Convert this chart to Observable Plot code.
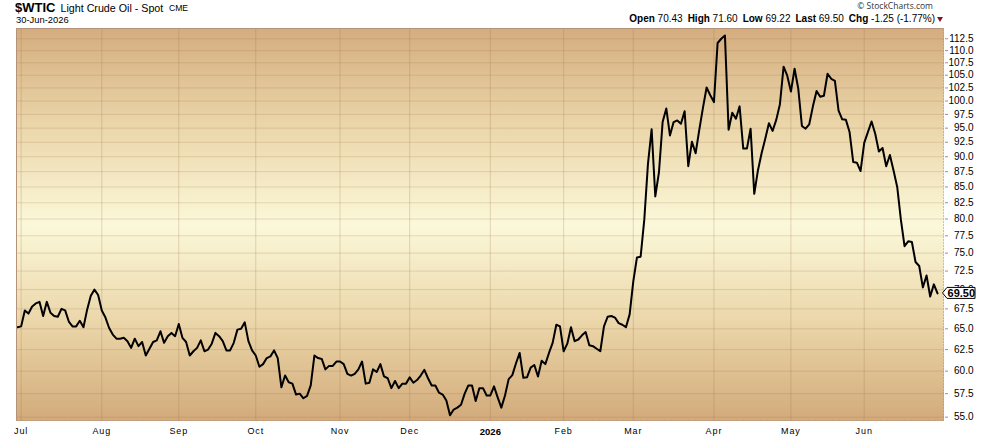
<!DOCTYPE html>
<html>
<head>
<meta charset="utf-8">
<script src="https://cdn.jsdelivr.net/npm/d3@7"></script>
<script src="https://cdn.jsdelivr.net/npm/@observablehq/plot@0.6"></script>
<style>
  body { margin: 0; background: #fff; font-family: "Liberation Sans", Arial, sans-serif; }
  #wrap { position: relative; width: 990px; height: 438px; overflow: hidden; background: #fff; }
  #hdr { position: relative; width: 990px; height: 27px; }
  #hdr span { position: absolute; white-space: nowrap; line-height: 1; color: #000; }
  #sym { left: 15px; top: 0.7px; font-size: 13px; font-weight: bold; }
  #name { left: 60.5px; top: 2.6px; font-size: 10.7px; }
  #exch { left: 169px; top: 4.4px; font-size: 8.6px; }
  #date { left: 16px; top: 14.6px; font-size: 9.4px; }
  #copy { right: 57px; top: 2px; font-size: 8.5px; color: #333 !important; font-family: "Open Sans", sans-serif; }
  #quote { right: 55px; top: 14px; font-size: 10px; }
  #quote b { font-weight: bold; }
  #quote i { font-style: normal; margin-right: 5px; }
  #tri { position: absolute; left: 937px; top: 17px; width: 0; height: 0;
         border-left: 3.5px solid transparent; border-right: 3.5px solid transparent; border-top: 5px solid #8b1030; }
  g[aria-description="xlab"] text { letter-spacing: 0.9px; }
</style>
</head>
<body>
<div id="wrap">
  <div id="hdr"></div>
  <div id="chart"></div>
</div>
<script>
// ---- data ----
const symbol = "$WTIC";
const seriesName = "Light Crude Oil - Spot";
const exchange = "CME";
const asOf = "30-Jun-2026";
const firstDay = "2025-06-30";
const lastDay = "2026-06-30";
const holidays = ["2025-07-04","2025-09-01","2025-11-27","2025-12-25","2026-01-01",
                  "2026-01-19","2026-02-16","2026-04-03","2026-05-25","2026-06-19"];
const quoteLabels = ["Open","High","Low","Last","Chg"];
const quoteValues = ["70.43","71.60","69.22","69.50","-1.25 (-1.77%)"];
const lastClose = 69.50;
const monthLabels = ["Jul","Aug","Sep","Oct","Nov","Dec","2026","Feb","Mar","Apr","May","Jun"];
const yTicks = [55,57.5,60,62.5,65,67.5,70,72.5,75,77.5,80,82.5,85,87.5,90,92.5,95,97.5,100,102.5,105,107.5,110,112.5];
const closes = [
  65.2,65.3,67.3,66.9,67.8,68.2,68.4,66.6,68.4,67.0,
  66.6,66.5,67.5,67.3,65.9,65.3,65.3,66.0,65.2,67.4,
  69.2,70.0,69.3,67.3,66.4,65.1,64.3,63.8,63.8,63.9,
  63.5,62.7,63.8,62.9,63.4,61.8,62.6,63.4,63.6,64.7,
  63.3,64.1,64.5,64.1,65.6,63.9,63.4,61.8,62.3,62.7,
  63.6,62.3,62.5,63.2,64.5,64.1,63.5,62.4,62.4,63.3,
  64.9,65.0,65.8,63.5,62.4,61.8,60.5,60.8,61.5,61.7,
  62.4,61.5,58.2,59.5,58.75,58.6,57.4,57.5,57.0,57.25,
  58.4,61.8,61.5,61.4,60.2,60.6,
  60.6,61.1,61.1,60.8,59.7,59.5,59.7,60.2,61.1,58.6,
  58.7,60.2,59.9,60.8,59.4,59.2,58.1,58.9,58.1,58.6,
  58.6,59.3,58.7,59.0,59.5,60.15,59.2,58.4,58.4,57.6,
  57.4,56.75,55.2,55.8,56.0,56.3,57.5,58.4,58.4,56.7,
  58.1,58.1,57.3,57.3,58.3,57.1,56.0,57.3,59.1,59.55,
  60.9,62.1,59.25,59.3,60.4,60.7,59.4,61.2,60.8,62.1,
  63.3,65.5,65.3,62.3,63.2,65.2,63.5,63.7,64.2,64.6,
  63.0,62.9,62.6,62.3,65.3,66.5,66.6,66.4,65.7,65.5,
  65.2,66.8,
  71.1,74.4,74.5,79.9,88.8,94.8,83.5,87.4,96.1,98.6,
  93.7,96.1,96.4,95.8,98.1,88.4,92.6,90.6,94.7,98.7,
  102.6,101.1,99.8,111.6,112.5,113.2,94.7,97.8,96.7,99.0,
  91.4,91.4,94.9,83.9,87.7,90.6,93.1,95.9,94.5,96.5,
  99.4,106.7,104.9,101.8,106.3,102.4,95.4,94.9,95.7,99.0,
  101.9,100.8,101.0,105.3,104.3,103.9,98.2,96.6,96.5,94.3,
  89.1,89.0,87.6,92.4,94.3,96.2,94.0,90.9,91.5,88.4,
  90.3,87.7,85.0,79.9,76.0,76.7,76.6,73.75,73.2,70.3,
  71.9,69.1,70.7,69.5
];

// ---- header ----
const hdr = document.getElementById("hdr");
hdr.innerHTML =
  `<span id="sym">${symbol}</span><span id="name">${seriesName}</span><span id="exch">${exchange}</span>` +
  `<span id="date">${asOf}</span><span id="copy">\u00A9 StockCharts.com</span>` +
  `<span id="quote">${quoteLabels.map((l, k) => `<b>${l}</b> ${quoteValues[k]}`).map((s, k, a) => k < a.length - 1 ? `<i>${s}</i>` : s).join("")}</span>` +
  `<div id="tri"></div>`;

// ---- trading days ----
const fmt = d3.utcFormat("%Y-%m-%d");
const dates = d3.utcDays(new Date(firstDay), d3.utcDay.offset(new Date(lastDay), 1))
  .filter(d => d.getUTCDay() !== 0 && d.getUTCDay() !== 6 && !holidays.includes(fmt(d)));
const data = closes.map((v, i) => ({i, date: dates[i], v}));
const monthStarts = data.filter((d, i) => i > 0 && d.date.getUTCMonth() !== data[i - 1].date.getUTCMonth()).map(d => d.i);
const xTicks = monthStarts.map((i, k) => ({i, label: monthLabels[k]}));

// ---- custom marks ----
function background(index, scales, values, dim) {
  const g = d3.create("svg:g");
  const grad = g.append("defs").append("linearGradient").attr("id", "bgGrad")
    .attr("x1", 0).attr("y1", 0).attr("x2", 0).attr("y2", 1);
  [[0, "#d4ad7e"], [0.25, "#ebd6aa"], [0.5, "#fbf8d9"], [0.75, "#ebd6a9"], [1, "#d2aa7a"]]
    .forEach(([o, c]) => grad.append("stop").attr("offset", o).attr("stop-color", c));
  g.append("rect").attr("x", dim.marginLeft).attr("y", dim.marginTop)
    .attr("width", dim.width - dim.marginLeft - dim.marginRight)
    .attr("height", dim.height - dim.marginTop - dim.marginBottom)
    .attr("fill", "url(#bgGrad)");
  return g.node();
}
function border(index, scales, values, dim) {
  const g = d3.create("svg:g").attr("fill", "none");
  const x0 = dim.marginLeft + 0.5, x1 = dim.width - dim.marginRight - 0.5;
  const y0 = dim.marginTop + 0.5, y1 = dim.height - dim.marginBottom - 0.5;
  g.append("path").attr("d", `M${x0},${y1}V${y0}H${x1}`).attr("stroke", "#b4937a");
  g.append("path").attr("d", `M${x0},${y1}H${x1}V${y0}`).attr("stroke", "#a88a8c").attr("stroke-dasharray", "1,2");
  return g.node();
}
function lastTag(index, scales, values, dim) {
  const y = scales.y(lastClose);
  const xt = dim.width - dim.marginRight - 1.5;
  const g = d3.create("svg:g");
  g.append("path")
    .attr("d", `M${xt},${y}L${xt + 4.5},${y - 5.5}H${xt + 32.5}V${y + 5.5}H${xt + 4.5}Z`)
    .attr("fill", "#fff").attr("stroke", "#000");
  g.append("text").attr("x", xt + 18.8).attr("y", y).attr("dy", "0.36em")
    .attr("text-anchor", "middle").attr("font-weight", "bold").attr("font-size", 11)
    .attr("font-family", "Liberation Sans, Arial, sans-serif")
    .text(lastClose.toFixed(2));
  return g.node();
}

const chart = Plot.plot({
  width: 990,
  height: 411,
  marginTop: 1,
  marginBottom: 17,
  marginLeft: 16,
  marginRight: 46,
  style: {fontFamily: "Liberation Sans, Arial, sans-serif", background: "transparent"},
  x: {type: "linear", domain: [-0.27, 252.9], axis: null},
  y: {type: "log", domain: [54.55, 114.7], axis: null},
  marks: [
    background,
    Plot.ruleY(yTicks, {stroke: "#9c7048", strokeOpacity: 0.22}),
    Plot.ruleX(monthStarts, {stroke: "#9c7048", strokeOpacity: 0.25}),
    Plot.line(data, {x: "i", y: "v", stroke: "#000", strokeWidth: 2, strokeLinejoin: "round"}),
    border,
    Plot.axisY(yTicks, {anchor: "right", label: null, tickSize: 3, tickPadding: 26, textAnchor: "end",
      tickFormat: d => d.toFixed(1), fontSize: 10, stroke: "#a88a8c", fill: "#000"}),
    Plot.text(xTicks.filter(d => d.label !== "2026"), {x: "i", text: "label", frameAnchor: "bottom",
      dy: 10, lineAnchor: "middle", fontSize: 9, fill: "#000", ariaDescription: "xlab"}),
    Plot.text(xTicks.filter(d => d.label === "2026"), {x: "i", text: "label", frameAnchor: "bottom",
      dy: 10, lineAnchor: "middle", fontSize: 9.5, fontWeight: "bold", fill: "#000"}),
    lastTag
  ]
});
document.getElementById("chart").appendChild(chart);
</script>
</body>
</html>
